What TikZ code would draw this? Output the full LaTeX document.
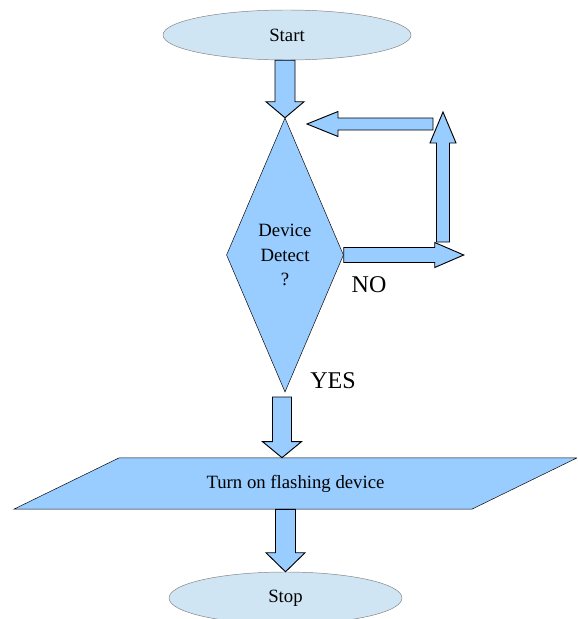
\documentclass[tikz,border=0pt]{standalone}
\usepackage{fontspec}
\setmainfont{Liberation Serif}
\usetikzlibrary{shapes, calc, positioning}

\definecolor{flowblue}{HTML}{99CCFF}
\definecolor{termblue}{HTML}{CFE5F4}

% block arrow: shaft half width, head half width, head length, tail, tip
\newcommand{\blockarrow}[5]{%
    \coordinate (ah) at ($(#5)!#3!(#4)$);
    \filldraw[flowarrow] ($(#4)!#1!90:(#5)$) -- ($(ah)!#1!90:(#5)$) -- ($(ah)!#2!90:(#5)$) -- (#5)
        -- ($(ah)!#2!-90:(#5)$) -- ($(ah)!#1!-90:(#5)$) -- ($(#4)!#1!-90:(#5)$) -- cycle;
}

\begin{document}
\begin{tikzpicture}[
        x=0.03cm, y=-0.03cm,
        terminal/.style={ellipse, draw=gray, fill=termblue, inner sep=0pt, font=\fontsize{16}{20}\selectfont},
        decision/.style={diamond, draw=black, fill=flowblue, minimum width=3.51cm, minimum height=8.22cm, inner sep=0pt, align=center, font=\fontsize{16}{21}\selectfont},
        io/.style={trapezium, trapezium left angle=26, trapezium right angle=154, trapezium stretches body, draw=black, fill=flowblue, minimum width=16.89cm, inner xsep=0pt, inner ysep=14.5pt, font=\fontsize{16}{20}\selectfont},
        answer/.style={font=\fontsize{20.5}{24}\selectfont},
        flowarrow/.style={draw=black, fill=flowblue, line width=0.8pt, line join=miter}
    ]
        \clip (0,0) rectangle (577,619);

        % Shapes
        \node[terminal, minimum width=7.44cm, minimum height=1.5cm] (start) at (287,35) {Start};
        \node[decision] (detect) at (285,255) {Device\\Detect\\?};
        \node[io] (flash) at (295.5,483.5) {Turn on flashing device};
        \node[terminal, minimum width=6.99cm, minimum height=1.56cm] (stop) at (285.5,598) {Stop};

        \node[answer] (no) at (369,285) {NO};
        \node[answer] (yes) at (333,381) {YES};

        % Loop back points
        \coordinate (noend) at ($(detect.east)+(120,0)$);
        \coordinate (upfoot) at (443,242);
        \coordinate (uptop) at (443,112);
        \coordinate (backtail) at (433,124);
        \coordinate (backtip) at (307,124);
        \coordinate (yesfoot) at (282,397);
        \coordinate (yestip) at (yesfoot |- flash.north);

        % Arrows
        \blockarrow{0.3cm}{0.57cm}{0.48cm}{start.south -| detect.north}{detect.north}
        \blockarrow{0.225cm}{0.375cm}{0.87cm}{detect.east}{noend}
        \blockarrow{0.195cm}{0.39cm}{0.93cm}{upfoot}{uptop}
        \blockarrow{0.18cm}{0.375cm}{0.93cm}{backtail}{backtip}
        \blockarrow{0.285cm}{0.585cm}{0.48cm}{yesfoot}{yestip}
        \blockarrow{0.3cm}{0.585cm}{0.57cm}{flash.south -| stop.north}{stop.north}
    \end{tikzpicture}
\end{document}
